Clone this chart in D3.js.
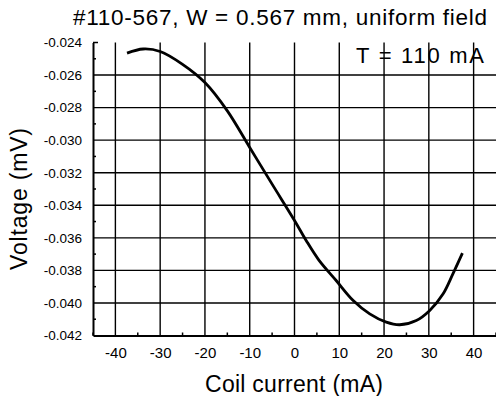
<!doctype html>
<html lang="en">
<head>
  <meta charset="utf-8">
  <title>Voltage vs coil current</title>
  <style>
    body { margin: 0; background: #fff; }
    svg { display: block; font-family: "Liberation Sans", Arial, sans-serif; }
    .grid line { stroke: #000; stroke-width: 1.4; }
  </style>
</head>
<body>
  <div id="chart"></div>
  <script src="https://d3js.org/d3.v7.min.js"></script>
  <script>
// values
const current = [-37.4, -33.8, -30, -25, -20, -15, -10, -5, 0,
  2.6, 5.4, 9.3, 13.1, 16.8, 20.5, 23.5, 27.2, 30.2, 33.2, 35.4, 37.5];
const voltage = [-0.02465, -0.0244, -0.02455, -0.02534, -0.02646, -0.0282, -0.03045, -0.0327, -0.03493,
  -0.03616, -0.03735, -0.03862, -0.03985, -0.04067, -0.04118, -0.04134, -0.04108, -0.04046,
  -0.03944, -0.0382, -0.03694];
const xTicks = [-40, -30, -20, -10, 0, 10, 20, 30, 40];
const yTicks = [-0.024, -0.026, -0.028, -0.030, -0.032, -0.034, -0.036, -0.038, -0.040, -0.042];
const xMinor = [-45, -35, -25, -15, -5, 5, 15, 25, 35, 45];
const yMinor = [-0.025, -0.027, -0.029, -0.031, -0.033, -0.035, -0.037, -0.039, -0.041];
const title = '#110-567, W = 0.567 mm, uniform field';
const note = 'T = 110 mA';

const width = 496, height = 396;

const svg = d3.select('#chart')
  .append('svg')
  .attr('width', width)
  .attr('height', height);

const x = d3.scaleLinear().domain([-45, 45]).range([93, 496]);
const y = d3.scaleLinear().domain([-0.042, -0.024]).range([335.5, 42.5]);

// grid
const grid = svg.append('g').attr('class', 'grid');
grid.selectAll('line.v')
  .data(xTicks)
  .join('line')
  .attr('class', 'v')
  .attr('x1', d => x(d)).attr('x2', d => x(d))
  .attr('y1', y(-0.024)).attr('y2', y(-0.042));
grid.selectAll('line.h')
  .data(yTicks.slice(1, -1))
  .join('line')
  .attr('class', 'h')
  .attr('x1', x(-45)).attr('x2', x(45))
  .attr('y1', d => y(d)).attr('y2', d => y(d));

// axes
const xAxis = svg.append('g')
  .attr('transform', `translate(0,${y(-0.042)})`)
  .call(d3.axisBottom(x).tickValues(xTicks).tickSize(0).tickPadding(12).tickFormat(d => String(d)));
xAxis.select('.domain').attr('stroke-width', 2);
xAxis.selectAll('text').style('font-size', '15px').attr('fill', '#000');

const yAxis = svg.append('g')
  .attr('transform', `translate(${x(-45)},0)`)
  .call(d3.axisLeft(y).tickValues(yTicks).tickSize(0).tickPadding(11).tickFormat(d => d.toFixed(3)));
yAxis.select('.domain').attr('stroke-width', 2);
yAxis.selectAll('text').style('font-size', '13.5px').attr('fill', '#000');

// inward ticks
svg.append('g')
  .selectAll('line')
  .data(yMinor.concat([-0.024]))
  .join('line')
  .attr('x1', x(-45)).attr('x2', d => x(-45) + (d === -0.024 ? 5 : 3))
  .attr('y1', d => y(d)).attr('y2', d => y(d))
  .attr('stroke', '#000').attr('stroke-width', 1.5);
svg.append('g')
  .selectAll('line')
  .data(xMinor)
  .join('line')
  .attr('x1', d => x(d)).attr('x2', d => x(d))
  .attr('y1', y(-0.042)).attr('y2', y(-0.042) - 3)
  .attr('stroke', '#000').attr('stroke-width', 1.5);

// curve
const points = current.map((c, i) => [c, voltage[i]]);
svg.append('path')
  .datum(points)
  .attr('fill', 'none')
  .attr('stroke', '#000')
  .attr('stroke-width', 2.8)
  .attr('stroke-linejoin', 'round')
  .attr('d', d3.line().x(d => x(d[0])).y(d => y(d[1])).curve(d3.curveCatmullRom));

// texts
svg.append('text')
  .attr('x', 280).attr('y', 25)
  .attr('text-anchor', 'middle')
  .attr('textLength', 414)
  .attr('lengthAdjust', 'spacing')
  .style('font-size', '22.5px')
  .text(title);

svg.append('text')
  .attr('x', 484).attr('y', 63)
  .attr('text-anchor', 'end')
  .attr('textLength', 128)
  .attr('lengthAdjust', 'spacing')
  .style('font-size', '22px')
  .text(note);

svg.append('text')
  .attr('transform', 'translate(27,199) rotate(-90)')
  .attr('text-anchor', 'middle')
  .attr('textLength', 142)
  .attr('lengthAdjust', 'spacing')
  .style('font-size', '23px')
  .text('Voltage (mV)');

svg.append('text')
  .attr('x', 294).attr('y', 392)
  .attr('text-anchor', 'middle')
  .attr('textLength', 178)
  .attr('lengthAdjust', 'spacing')
  .style('font-size', '23px')
  .text('Coil current (mA)');
  </script>
</body>
</html>
